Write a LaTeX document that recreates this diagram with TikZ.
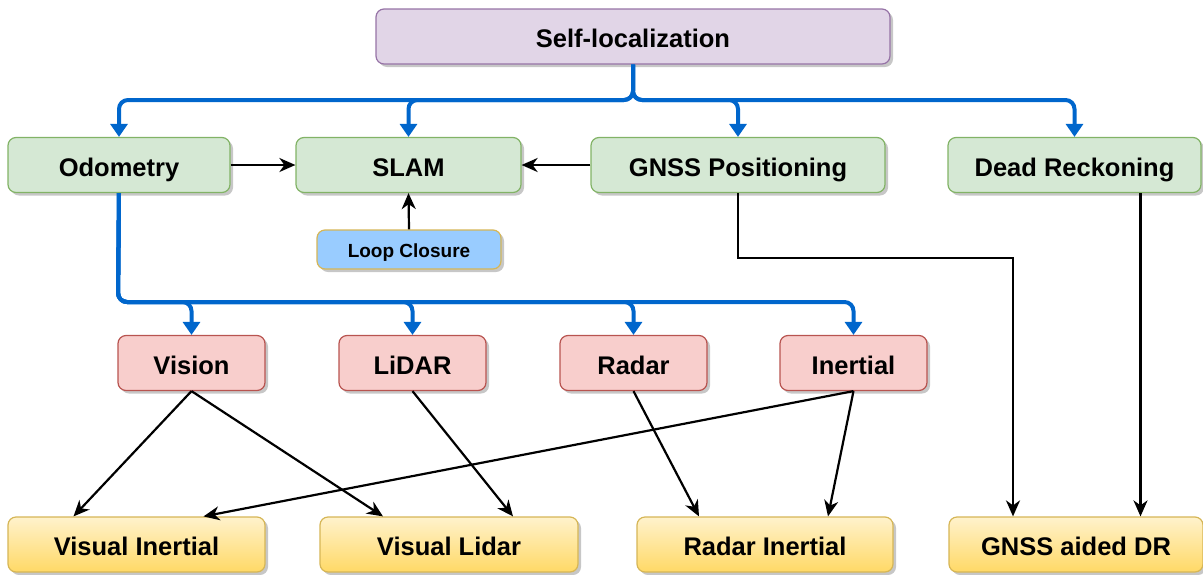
\documentclass[tikz,border=0pt]{standalone}
\usepackage{fontspec}
\setmainfont{Liberation Sans}
\usetikzlibrary{arrows.meta,shadows}

\definecolor{purplefill}{HTML}{E1D5E7}
\definecolor{purpleline}{HTML}{9673A6}
\definecolor{greenfill}{HTML}{D5E8D4}
\definecolor{greenline}{HTML}{82B366}
\definecolor{redfill}{HTML}{F8CECC}
\definecolor{redline}{HTML}{B85450}
\definecolor{yellowtop}{HTML}{FFF2CC}
\definecolor{yellowbot}{HTML}{FFD966}
\definecolor{yellowline}{HTML}{D6B656}
\definecolor{loopfill}{HTML}{99CCFF}
\definecolor{treeblue}{HTML}{0066CC}

\tikzset{
  box/.style={draw, rounded corners=8pt, line width=1.2pt, inner sep=0pt, minimum height=55pt,
    font=\fontsize{25.5}{30}\selectfont\bfseries, text height=22pt, text depth=0pt,
    drop shadow={shadow xshift=3pt, shadow yshift=-3pt, fill=black, opacity=0.22}},
  rootbox/.style={box, fill=purplefill, draw=purpleline},
  methbox/.style={box, fill=greenfill, draw=greenline},
  sensbox/.style={box, fill=redfill, draw=redline, minimum width=147pt},
  fusebox/.style={box, top color=yellowtop, bottom color=yellowbot, draw=yellowline},
  loopbox/.style={box, fill=loopfill, draw=yellowline, minimum height=39pt, minimum width=184pt,
    font=\fontsize{19}{23}\selectfont\bfseries, text height=15pt},
  tree/.style={draw=treeblue, line width=4pt, rounded corners=9pt,
    -{Triangle[length=13pt,width=17pt]}},
  link/.style={line width=2.2pt, -{Stealth[length=16pt,width=14pt,inset=5pt]}}
}

\begin{document}
\begin{tikzpicture}[x=1pt, y=-1pt]

\useasboundingbox (0,0) rectangle (1203,574);

\node[rootbox, minimum width=514pt] (selfloc) at (633,36.5) {Self-localization};

\node[methbox, minimum width=222pt] (odo) at (119,165) {Odometry};
\node[methbox, minimum width=225pt] (slam) at (408.5,165) {SLAM};
\node[methbox, minimum width=294pt] (gnss) at (738,165) {GNSS Positioning};
\node[methbox, minimum width=253pt] (dr) at (1074.5,165) {Dead Reckoning};

\node[loopbox] (loop) at (409,249.5) {Loop Closure};

\node[sensbox] (vision) at (191.5,363) {Vision};
\node[sensbox] (lidar) at (412.5,363) {LiDAR};
\node[sensbox] (radar) at (633.5,363) {Radar};
\node[sensbox] (inertial) at (853.5,363) {Inertial};

\node[fusebox, minimum width=257pt] (vi) at (136.5,544.5) {Visual Inertial};
\node[fusebox, minimum width=258pt] (vl) at (449,544.5) {Visual Lidar};
\node[fusebox, minimum width=256pt] (ri) at (765,544.5) {Radar Inertial};
\node[fusebox, minimum width=254pt] (gdr) at (1076,544.5) {GNSS aided DR};

\coordinate (topbus) at (633,100);
\coordinate (odobus) at (118,302);
\coordinate (gnssbend) at (1013,258);

\draw[tree] (selfloc.south) -- (topbus) -| (odo.north);
\draw[tree] (selfloc.south) -- (topbus) -| (slam.north);
\draw[tree] (selfloc.south) -- (topbus) -| (gnss.north);
\draw[tree] (selfloc.south) -- (topbus) -| (dr.north);

\draw[tree] (odo.south) -- (odobus) -| (vision.north);
\draw[tree] (odo.south) -- (odobus) -| (lidar.north);
\draw[tree] (odo.south) -- (odobus) -| (radar.north);
\draw[tree] (odo.south) -- (odobus) -| (inertial.north);

\draw[link] (odo.east) -- (slam.west);
\draw[link] (gnss.west) -- (slam.east);
\draw[link] (loop.north) -- (slam.south);

\draw[link] (vision.south) -- ([xshift=-63pt]vi.north);
\draw[link] (vision.south) -- ([xshift=-66pt]vl.north);
\draw[link] (lidar.south) -- ([xshift=64pt]vl.north);
\draw[link] (radar.south) -- ([xshift=-66pt]ri.north);
\draw[link] (inertial.south) -- ([xshift=63pt]ri.north);
\draw[link] (inertial.south) -- ([xshift=67pt]vi.north);

\draw[link] (gnss.south) |- (gnssbend) -- (gnssbend |- gdr.north);
\draw[link] ([xshift=66pt]dr.south) -- ([xshift=66pt]dr.south |- gdr.north);

\end{tikzpicture}
\end{document}
